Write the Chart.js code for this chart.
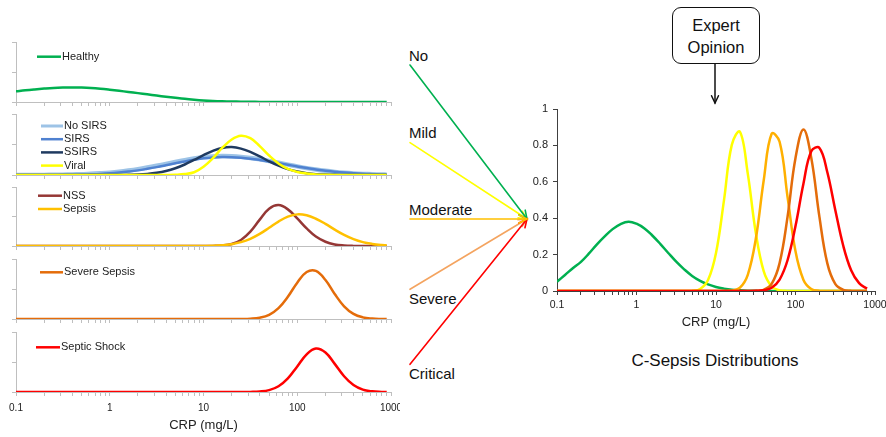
<!DOCTYPE html>
<html>
<head>
<meta charset="utf-8">
<script src="https://cdn.jsdelivr.net/npm/chart.js@4.4.1/dist/chart.umd.min.js"></script>
<style>
html, body { margin: 0; padding: 0; background: #fff; }
body { width: 886px; height: 437px; position: relative; overflow: hidden;
       font-family: "Liberation Sans", Arial, sans-serif; color: #111; }
canvas { position: absolute; }
.lbl { position: absolute; font-size: 15px; line-height: 18px; white-space: nowrap; }
#expert { position: absolute; left: 672px; top: 7px; width: 88px; height: 57px; box-sizing: border-box;
          border: 1.5px solid #111; border-radius: 9px; text-align: center; font-size: 16.5px;
          line-height: 22px; padding-top: 5.5px; background: #fff; }
#caption { position: absolute; left: 595px; top: 351px; width: 240px; text-align: center;
           font-size: 17px; line-height: 20px; }
</style>
</head>
<body>

<div class="lbl" style="left:409px;top:47px">No</div>
<div class="lbl" style="left:409px;top:124px">Mild</div>
<div class="lbl" style="left:409px;top:201px">Moderate</div>
<div class="lbl" style="left:409px;top:290px">Severe</div>
<div class="lbl" style="left:409px;top:365px">Critical</div>
<div id="expert">Expert<br>Opinion</div>
<div id="caption">C-Sepsis Distributions</div>

<script>
// CRP sample points (mg/L), ~0.1 decade apart
const crp = [0.1,0.126,0.158,0.2,0.251,0.316,0.398,0.501,0.631,0.794,
             1,1.26,1.58,2,2.51,3.16,3.98,5.01,6.31,7.94,
             10,12.6,15.8,20,25.1,31.6,39.8,50.1,63.1,79.4,
             100,126,158,200,251,316,398,501,631,794,900]
const decadeLabels = [0.1, 1, 10, 100, 1000]

// left stack (fraction of panel height)
const healthy = [0.177,0.195,0.21,0.224,0.235,0.241,0.243,0.24,0.233,0.221,
                 0.205,0.187,0.167,0.148,0.128,0.107,0.088,0.07,0.053,0.039,
                 0.027,0.018,0.012,0.008,0.005,0.003,0.002,0.001,0,0,
                 0,0,0,0,0,0,0,0,0,0,0]
const noSirs = [0.0003,0.0006,0.001,0.002,0.003,0.005,0.008,0.013,0.019,0.028,
                0.039,0.054,0.073,0.096,0.122,0.151,0.182,0.213,0.243,0.269,
                0.29,0.304,0.31,0.307,0.297,0.28,0.257,0.23,0.2,0.17,
                0.141,0.113,0.089,0.068,0.051,0.037,0.026,0.018,0.012,0.008,0.006]
const sirs = [0,0.0002,0.0004,0.0008,0.0015,0.0026,0.0045,0.0074,0.012,0.018,
              0.027,0.04,0.056,0.076,0.101,0.129,0.16,0.192,0.223,0.25,
              0.273,0.288,0.295,0.293,0.284,0.268,0.247,0.223,0.196,0.168,
              0.14,0.115,0.091,0.071,0.054,0.04,0.029,0.02,0.014,0.009,0.008]
const ssirs = [0,0,0,0,0,0,0,0,0,0.0002,
               0.0005,0.001,0.0035,0.008,0.018,0.036,0.065,0.11,0.172,0.247,
               0.326,0.396,0.443,0.457,0.433,0.378,0.304,0.225,0.153,0.096,
               0.056,0.03,0.014,0.007,0.003,0.001,0,0,0,0,0]
const viral = [0,0,0,0,0,0,0,0,0,0,
               0,0,0,0,0,0.0005,0.001,0.004,0.015,0.045,
               0.135,0.275,0.443,0.583,0.645,0.603,0.474,0.32,0.19,0.1,
               0.05,0.024,0.01,0.004,0.001,0,0,0,0,0,0]
const nss = [0,0,0,0,0,0,0,0,0,0,
             0,0,0,0,0,0,0,0,0,0,
             0.0003,0.0016,0.008,0.034,0.103,0.244,0.447,0.633,0.694,0.621,
             0.468,0.298,0.16,0.072,0.027,0.009,0.002,0.0005,0,0,0]
const sepsis = [0,0,0,0,0,0,0,0,0,0,
                0,0,0,0,0,0,0,0,0,0.0005,
                0.0017,0.005,0.013,0.031,0.065,0.122,0.205,0.308,0.414,0.498,
                0.536,0.52,0.462,0.375,0.278,0.189,0.117,0.066,0.035,0.016,0.011]
const severeSepsis = [0,0,0,0,0,0,0,0,0,0,
                      0,0,0,0,0,0,0,0,0,0,
                      0,0,0,0,0.001,0.005,0.021,0.069,0.18,0.371,
                      0.606,0.783,0.802,0.65,0.417,0.212,0.085,0.027,0.007,0.001,0.0005]
const septicShock = [0,0,0,0,0,0,0,0,0,0,
                     0,0,0,0,0,0,0,0,0,0,
                     0,0,0,0,0.0003,0.0016,0.008,0.031,0.095,0.227,
                     0.426,0.628,0.726,0.659,0.469,0.262,0.115,0.039,0.011,0.002,0.001]

// C-Sepsis distributions (first 40 crp points)
const csNo = [0.051,0.088,0.125,0.16,0.205,0.255,0.3,0.34,0.368,0.381,
              0.37,0.344,0.305,0.258,0.209,0.161,0.119,0.083,0.056,0.036,
              0.022,0.013,0.007,0.004,0.002,0.001,0,0,0,0,
              0,0,0,0,0,0,0,0,0,0]
const csMild = [0,0,0,0,0,0,0,0,0,0,
                0,0,0,0,0,0,0,0.0015,0.011,0.06,
                0.209,0.498,0.803,0.875,0.645,0.322,0.109,0.025,0.004,0.0005,
                0,0,0,0,0,0,0,0,0,0]
const csModerate = [0,0,0,0,0,0,0,0,0,0,
                    0,0,0,0,0,0,0,0,0,0,
                    0,0.0003,0.0026,0.018,0.089,0.284,0.607,0.864,0.82,0.518,
                    0.218,0.061,0.011,0.0014,0,0,0,0,0,0]
const csSevere = [0,0,0,0,0,0,0,0,0,0,
                  0,0,0,0,0,0,0,0,0,0,
                  0,0,0,0,0,0.0008,0.0067,0.039,0.153,0.407,
                  0.731,0.888,0.731,0.407,0.153,0.039,0.0067,0.0008,0,0]
const csCritical = [0,0,0,0,0,0,0,0,0,0,
                    0,0,0,0,0,0,0,0,0,0,
                    0,0,0,0,0,0.0007,0.004,0.018,0.063,0.169,
                    0.357,0.591,0.768,0.786,0.654,0.447,0.25,0.114,0.043,0.013]

Chart.defaults.font.family = '"Liberation Sans", Arial, sans-serif'

// tick marks at 1..9 x each decade
const logTicks = []
for (const d of [0.1, 1, 10, 100]) for (let m = 1; m < 10; m++) logTicks.push(Number((m * d).toPrecision(3)))
logTicks.push(1000)

function setLogTicks(scale) { scale.ticks = logTicks.map(v => ({ value: v })) }
function decadeLabel(v) { return decadeLabels.includes(v) ? String(v) : '' }
// keep the plot edges where the original has them (no room reserved for edge labels)
function noEdgePad(s) { s.paddingLeft = 0; s.paddingRight = 0; s.paddingTop = 0; s.paddingBottom = 0 }

// small legend drawn inside the plot, like the original
const seriesKey = {
  id: 'seriesKey',
  afterDatasetsDraw(chart, args, o) {
    if (!o || o.x == null) return
    const ctx = chart.ctx
    ctx.save()
    ctx.font = '11px "Liberation Sans", Arial, sans-serif'
    ctx.textBaseline = 'middle'
    ctx.fillStyle = '#222'
    chart.data.datasets.forEach((ds, i) => {
      const y = o.y + i * o.step
      ctx.strokeStyle = ds.borderColor
      ctx.lineWidth = Math.min(ds.borderWidth, 3)
      ctx.beginPath(); ctx.moveTo(o.x, y); ctx.lineTo(o.x + o.len, y); ctx.stroke()
      ctx.fillText(ds.label, o.x + o.len + 1, y)
    })
    ctx.restore()
  }
}

function mkCanvas(left, top, w, h) {
  const c = document.createElement('canvas')
  c.width = w; c.height = h
  c.style.left = left + 'px'; c.style.top = top + 'px'
  document.body.appendChild(c)
  return c
}

const panels = [
  { top: 42, bottom: 102, key: { x: 37, y: 56.7, step: 13.3, len: 24 },
    series: [['Healthy', healthy, '#00B050', 2.5]] },
  { top: 114, bottom: 175, key: { x: 41, y: 126, step: 13.2, len: 22 },
    series: [['No SIRS', noSirs, '#9DC3E6', 4.5], ['SIRS', sirs, '#4F81D0', 2.5],
             ['SSIRS', ssirs, '#1F3A60', 2.5], ['Viral', viral, '#FFFF00', 2.5]] },
  { top: 187, bottom: 246, key: { x: 38, y: 195.7, step: 13.3, len: 24 },
    series: [['NSS', nss, '#953735', 2.5], ['Sepsis', sepsis, '#FFC000', 2.5]] },
  { top: 259, bottom: 319, key: { x: 40, y: 272.3, step: 13.3, len: 23 },
    series: [['Severe Sepsis', severeSepsis, '#E46C0A', 2.5]] },
  { top: 332, bottom: 392, key: { x: 36, y: 347.3, step: 13.3, len: 24 },
    series: [['Septic Shock', septicShock, '#FF0000', 2.5]] }
]

const leftAxis = '#BFBFBF'
panels.forEach((p, k) => {
  const last = k === panels.length - 1
  const xh = last ? 45 : 6
  const ctop = p.top - 6
  const c = mkCanvas(0, ctop, 400, (p.bottom - p.top) + 6 + xh)
  new Chart(c, {
    type: 'line',
    data: {
      datasets: p.series.map((s, i) => ({
        label: s[0], data: crp.map((x, j) => ({ x, y: s[1][j] })),
        borderColor: s[2], borderWidth: s[3], pointRadius: 0, tension: 0.4, fill: false,
        order: p.series.length - i
      }))
    },
    options: {
      responsive: false, animation: false, events: [],
      layout: { padding: { top: 6, left: 0, right: 9, bottom: 0 } },
      plugins: {
        legend: { display: false }, tooltip: { enabled: false },
        seriesKey: { x: p.key.x, y: p.key.y - ctop, step: p.key.step, len: p.key.len }
      },
      scales: {
        x: {
          type: 'logarithmic', min: 0.1, max: 1000,
          afterBuildTicks: setLogTicks,
          afterFit: s => { s.height = xh; noEdgePad(s) },
          grid: { drawOnChartArea: false, tickLength: 4, color: leftAxis },
          border: { color: leftAxis },
          ticks: { display: last, autoSkip: false, maxRotation: 0, padding: 6, color: '#222',
                   font: { size: 10 }, callback: decadeLabel },
          title: { display: last, text: 'CRP (mg/L)', color: '#222', font: { size: 13 },
                   padding: { top: 2, bottom: 4 } }
        },
        y: {
          min: 0, max: 1,
          afterFit: s => { s.width = 16; noEdgePad(s) },
          ticks: { display: false, stepSize: 0.5 },
          grid: { drawOnChartArea: false, tickLength: 4, color: leftAxis },
          border: { color: leftAxis }
        }
      }
    },
    plugins: [seriesKey]
  })
})

// right chart: C-Sepsis distributions
const crpR = crp.slice(0, 40)
const rightSeries = [
  ['Critical', csCritical, '#FF0000'],
  ['Severe', csSevere, '#E46C0A'],
  ['Moderate', csModerate, '#FFB000'],
  ['Mild', csMild, '#FFFF00'],
  ['No', csNo, '#00B050']
]
const rightAxis = '#404040'
new Chart(mkCanvas(520, 100, 366, 233), {
  type: 'line',
  data: {
    datasets: rightSeries.map((s, i) => ({
      label: s[0], data: crpR.map((x, j) => ({ x, y: s[1][j] })),
      borderColor: s[2], borderWidth: 2.5, pointRadius: 0, tension: 0.4, fill: false, order: i
    }))
  },
  options: {
    responsive: false, animation: false, events: [],
    layout: { padding: { top: 9, right: 11, left: 0, bottom: 0 } },
    plugins: { legend: { display: false }, tooltip: { enabled: false } },
    scales: {
      x: {
        type: 'logarithmic', min: 0.1, max: 1000,
        afterBuildTicks: setLogTicks,
        afterFit: s => { s.height = 42; noEdgePad(s) },
        grid: { drawOnChartArea: false, tickLength: 4, color: rightAxis },
        border: { color: rightAxis },
        ticks: { autoSkip: false, maxRotation: 0, padding: 4, color: '#222',
                 font: { size: 10.5 }, callback: decadeLabel },
        title: { display: true, text: 'CRP (mg/L)', color: '#222', font: { size: 13 },
                 padding: { top: 2, bottom: 3 } }
      },
      y: {
        min: 0, max: 1,
        afterFit: s => { s.width = 37; noEdgePad(s) },
        ticks: { stepSize: 0.2, padding: 5, color: '#222', font: { size: 11 },
                 callback: v => String(Number(v.toFixed(1))) },
        grid: { drawOnChartArea: false, tickLength: 4, color: rightAxis },
        border: { color: rightAxis }
      }
    }
  }
})

// arrows (diagram overlay)
const ov = mkCanvas(0, 0, 886, 437)
ov.style.pointerEvents = 'none'
const g = ov.getContext('2d')
function arrow(x1, y1, x2, y2, color, w, head) {
  const a = Math.atan2(y2 - y1, x2 - x1)
  g.strokeStyle = color; g.lineWidth = w; g.lineCap = 'round'
  g.beginPath(); g.moveTo(x1, y1); g.lineTo(x2, y2); g.stroke()
  g.beginPath()
  g.moveTo(x2 - head * Math.cos(a - 0.45), y2 - head * Math.sin(a - 0.45))
  g.lineTo(x2, y2)
  g.lineTo(x2 - head * Math.cos(a + 0.45), y2 - head * Math.sin(a + 0.45))
  g.stroke()
}
const tip = [527, 219]
arrow(410, 289.3, tip[0], tip[1], '#F4A460', 1.6, 9)
arrow(410, 142.7, tip[0], tip[1], '#FFFF00', 1.6, 9)
arrow(410, 65, tip[0], tip[1], '#00B050', 1.6, 9)
arrow(410, 364.3, tip[0], tip[1], '#FF0000', 1.6, 9)
arrow(410, 219, tip[0], tip[1], '#FFC000', 1.6, 9)
arrow(715, 64, 715, 103, '#111', 1.5, 8)
</script>
</body>
</html>
